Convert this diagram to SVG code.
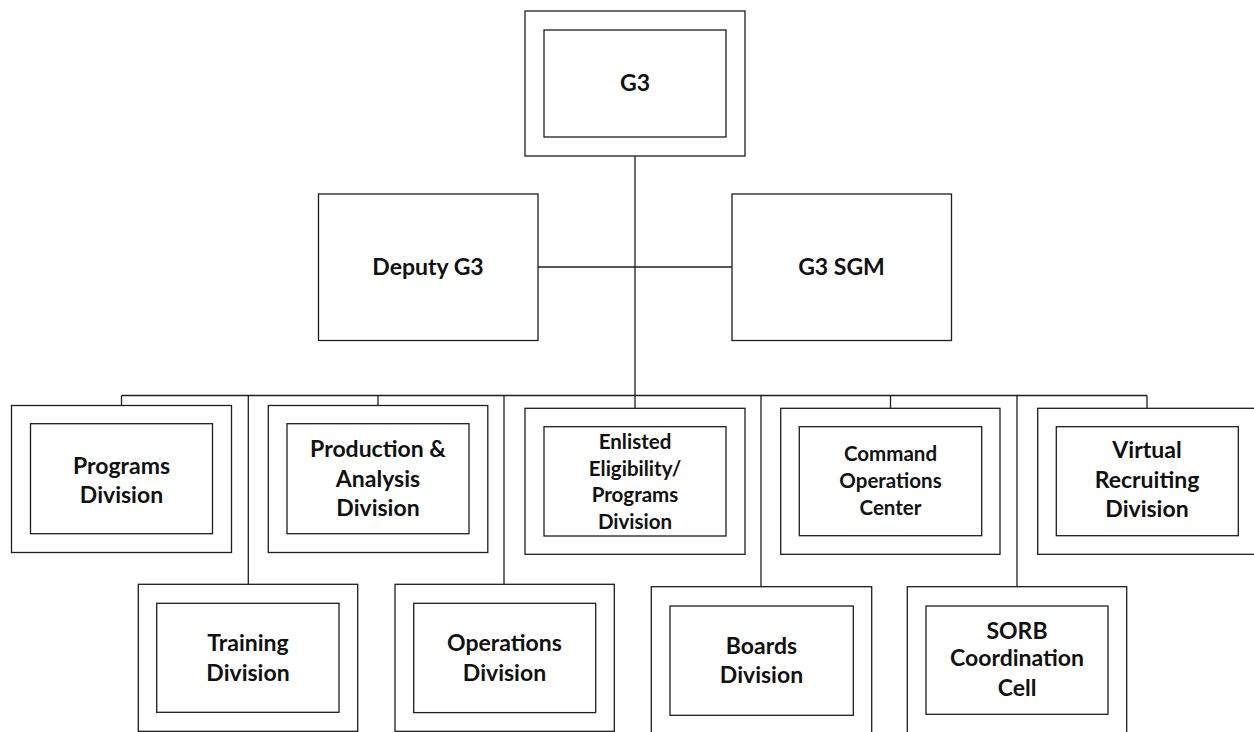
<svg xmlns="http://www.w3.org/2000/svg" width="1254" height="732" viewBox="0 0 1254 732">
  <style>
    rect { fill: #ffffff; stroke: #1e1e1e; stroke-width: 1.3; }
    .wire { fill: none; stroke: #1e1e1e; stroke-width: 1.3; }
    text { font-family: Lato, "Liberation Sans", sans-serif; font-weight: 700; fill: #111111; text-anchor: middle; }
    .lg { font-size: 23px; }
    .sm { font-size: 20.5px; }
  </style>
  <rect x="0" y="0" width="1254" height="732" style="stroke:none"/>

  <!-- connectors -->
  <g id="connectors">
    <path class="wire" d="M635 156 V408.3"/>
    <path class="wire" d="M538 267 H732"/>
    <path class="wire" d="M121.5 395.5 H1147"/>
    <path class="wire" d="M121.5 395.5 V405.5"/>
    <path class="wire" d="M378 395.5 V405.5"/>
    <path class="wire" d="M890.5 395.5 V408.3"/>
    <path class="wire" d="M1147 395.5 V408.3"/>
    <path class="wire" d="M248.3 395.5 V584.3"/>
    <path class="wire" d="M504 395.5 V584.3"/>
    <path class="wire" d="M761 395.5 V586.7"/>
    <path class="wire" d="M1017 395.5 V586.7"/>
  </g>

  <!-- top level -->
  <g id="g3">
    <rect x="525" y="11" width="220" height="145"/>
    <rect x="544" y="30" width="182" height="107"/>
    <text class="lg" x="635" y="91">G3</text>
  </g>
  <g id="deputy-g3">
    <rect x="318.5" y="194" width="219.5" height="146.5"/>
    <text class="lg" x="428" y="275">Deputy G3</text>
  </g>
  <g id="g3-sgm">
    <rect x="732" y="194" width="219.5" height="146.5"/>
    <text class="lg" x="841.5" y="275">G3 SGM</text>
  </g>

  <!-- upper row of divisions -->
  <g id="programs-division">
    <rect x="11.5" y="405.5" width="220" height="147"/>
    <rect x="30.5" y="423.7" width="182" height="110"/>
    <text class="lg" x="121.5" y="474">Programs</text>
    <text class="lg" x="121.5" y="503">Division</text>
  </g>
  <g id="production-analysis-division">
    <rect x="268.3" y="405.5" width="219.5" height="147"/>
    <rect x="287" y="423.7" width="182" height="110"/>
    <text class="lg" x="378" y="457">Production &amp;</text>
    <text class="lg" x="378" y="487">Analysis</text>
    <text class="lg" x="378" y="516">Division</text>
  </g>
  <g id="enlisted-eligibility-division">
    <rect x="525" y="408.3" width="220" height="146"/>
    <rect x="544" y="426.7" width="182" height="109.3"/>
    <text class="sm" x="635" y="449">Enlisted</text>
    <text class="sm" x="635" y="476">Eligibility/</text>
    <text class="sm" x="635" y="502">Programs</text>
    <text class="sm" x="635" y="528.5">Division</text>
  </g>
  <g id="command-operations-center">
    <rect x="780.7" y="408.3" width="219.3" height="146"/>
    <rect x="799.3" y="426.7" width="182.4" height="109"/>
    <text class="sm" x="890.5" y="460.5">Command</text>
    <text class="sm" x="890.5" y="488">Operations</text>
    <text class="sm" x="890.5" y="515">Center</text>
  </g>
  <g id="virtual-recruiting-division">
    <rect x="1037.7" y="408.3" width="220" height="146"/>
    <rect x="1056.3" y="426.7" width="182" height="109"/>
    <text class="lg" x="1147" y="458">Virtual</text>
    <text class="lg" x="1147" y="488">Recruiting</text>
    <text class="lg" x="1147" y="517">Division</text>
  </g>

  <!-- lower row of divisions -->
  <g id="training-division">
    <rect x="138.3" y="584.3" width="219.4" height="147"/>
    <rect x="156.7" y="603.3" width="182.3" height="109"/>
    <text class="lg" x="248" y="651">Training</text>
    <text class="lg" x="248" y="681">Division</text>
  </g>
  <g id="operations-division">
    <rect x="395" y="584.3" width="219.3" height="147"/>
    <rect x="413.7" y="603.3" width="182" height="109.3"/>
    <text class="lg" x="504.5" y="651">Operations</text>
    <text class="lg" x="504.5" y="681">Division</text>
  </g>
  <g id="boards-division">
    <rect x="651.3" y="586.7" width="220.4" height="147"/>
    <rect x="670" y="606" width="183.3" height="109.3"/>
    <text class="lg" x="761.5" y="654">Boards</text>
    <text class="lg" x="761.5" y="683">Division</text>
  </g>
  <g id="sorb-coordination-cell">
    <rect x="907.3" y="586.7" width="219.4" height="147"/>
    <rect x="926" y="606" width="182" height="108.3"/>
    <text class="lg" x="1017" y="638.5">SORB</text>
    <text class="lg" x="1017" y="666">Coordination</text>
    <text class="lg" x="1017" y="696">Cell</text>
  </g>
</svg>
